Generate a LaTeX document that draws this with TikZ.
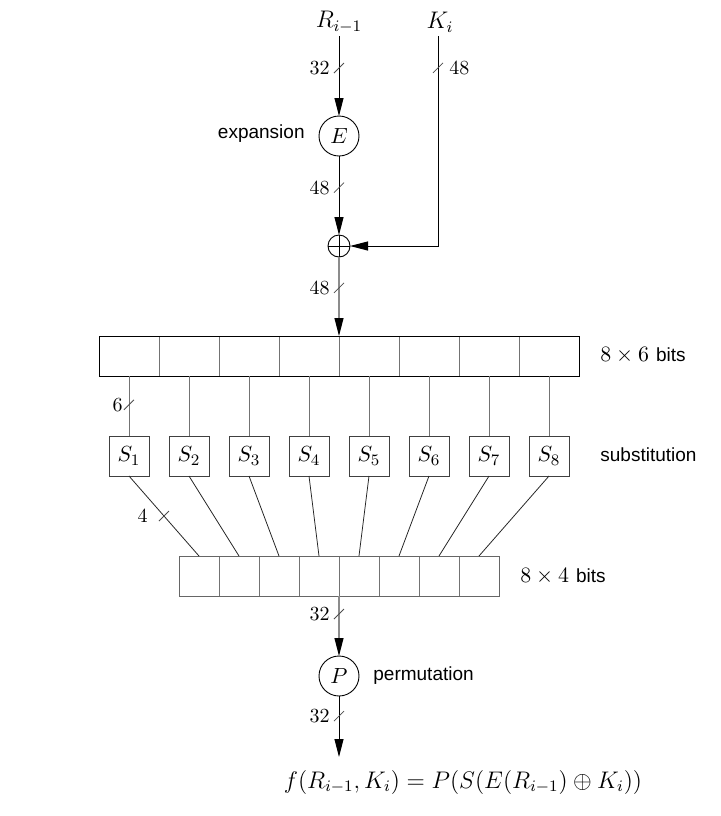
\documentclass[tikz,border=0pt]{standalone}
\usepackage{fontspec}
\newfontfamily\lblfont{Liberation Sans}
\usetikzlibrary{arrows.meta,calc}
\newcommand\myslash[1]{\draw[slashmark] ($(#1)+(-5,5)$) -- ($(#1)+(5,-5)$);}
\begin{document}
\begin{tikzpicture}[x=0.5pt,y=-0.5pt,
  tipk/.tip={Triangle[length=9pt,width=4.5pt,black]},
  flow/.style={draw=black, line width=0.5pt, -tipk},
  gflow/.style={draw=black!45, line width=0.55pt, -tipk},
  conn/.style={draw=black!55, line width=0.45pt},
  dconn/.style={draw=black!85, line width=0.4pt},
  cell/.style={draw=black!55, line width=0.5pt, minimum width=30pt, minimum height=20pt, inner sep=0pt, outer sep=0pt},
  bcell/.style={draw=black!55, line width=0.5pt, minimum size=20pt, inner sep=0pt, outer sep=0pt},
  sbox/.style={draw=black!75, line width=0.5pt, minimum size=20pt, inner sep=0pt, outer sep=0pt, font=\fontsize{11}{13}\selectfont},
  op/.style={circle, draw, line width=0.45pt, minimum size=20pt, inner sep=0pt, outer sep=0pt, font=\fontsize{11}{13}\selectfont},
  slashmark/.style={draw=black!70, line width=0.4pt},
  num/.style={font=\fontsize{10}{12}\selectfont, inner sep=0pt},
  lbl/.style={font=\lblfont\fontsize{9.5}{11}\selectfont, inner sep=0pt},
  inp/.style={font=\fontsize{12}{14}\selectfont, inner sep=0pt}
]
\useasboundingbox (0,0) rectangle (720,816);

% inputs
\node[inp] (R) at (339,22) {$R_{i-1}$};
\node[inp] (K) at (440,22) {$K_i$};
\coordinate (Rtop) at (339,36);
\coordinate (Ktop) at (438,36);
\coordinate (Kc) at (438,246);

% operators
\node[op] (E) at (339,136) {$E$};
\node[op, minimum size=11pt] (X) at (339,246) {};
\draw[line width=0.45pt] (X.north) -- (X.south) (X.west) -- (X.east);
\node[op] (P) at (339,676) {$P$};

% top box (8 x 6 bits)
\foreach \k in {1,...,8} {
  \node[cell] (t\k) at ({69+60*\k},356) {};
}
\draw[line width=0.5pt] (t1.north west) rectangle (t8.south east);

% S-boxes
\foreach \k in {1,...,8} {
  \node[sbox] (S\k) at ({69+60*\k},456) {$S_{\k}$};
}

% bottom box (8 x 4 bits)
\foreach \k in {1,...,8} {
  \node[bcell] (b\k) at ({159+40*\k},576) {};
}
\draw[draw=black!60, line width=0.5pt] (b1.north west) rectangle (b8.south east);

\coordinate (out) at (339,757);

% connectors
\draw[flow] (Rtop) -- coordinate[pos=0.4] (m1) (E.north);
\draw[flow] (E.south) -- coordinate[pos=0.4] (m2) (X.north);
\draw[flow] (Ktop) -- coordinate[pos=0.152] (m3) (Kc) -- (X.east);
\draw[gflow] (X.south) -- coordinate[pos=0.39] (m4) (t4.north east);
\foreach \k in {1,...,8} {
  \draw[conn] (t\k.south) -- (S\k.north);
  \draw[dconn] (S\k.south) -- (b\k.north);
}
\coordinate (m5) at ($(t1.south)!0.48!(S1.north)$);
\coordinate (m6) at ($(S1.south)!0.5!(b1.north)$);
\draw[gflow] (b4.south east) -- coordinate[pos=0.3] (m7) (P.north);
\draw[flow] (P.south) -- coordinate[pos=0.33] (m8) (out);

% bus width marks
\myslash{m1} \myslash{m2} \myslash{m3} \myslash{m4}
\myslash{m5} \myslash{m6} \myslash{m7} \myslash{m8}
\node[num, anchor=east] (n1) at ($(m1)+(-9,0)$) {32};
\node[num, anchor=east] (n2) at ($(m2)+(-9,0)$) {48};
\node[num, anchor=west] (n3) at ($(m3)+(11,0)$) {48};
\node[num, anchor=east] (n4) at ($(m4)+(-9,0)$) {48};
\node[num, anchor=east] (n5) at ($(m5)+(-6,0)$) {6};
\node[num, anchor=east] (n6) at ($(m6)+(-16,0)$) {4};
\node[num, anchor=east] (n7) at ($(m7)+(-9,0)$) {32};
\node[num, anchor=east] (n8) at ($(m8)+(-9,0)$) {32};

% labels
\node[lbl, anchor=east] (lexp) at (305,134) {expansion};
\node[lbl, anchor=west] (lsub) at (600,455) {substitution};
\node[lbl, anchor=west] (lper) at (373,676) {permutation};
\node[anchor=west, inner sep=0pt, font=\fontsize{10.5}{12}\selectfont] (l86) at (600,355) {$8\times6$ {\lblfont\fontsize{9.5}{11}\selectfont bits}};
\node[anchor=west, inner sep=0pt, font=\fontsize{10.5}{12}\selectfont] (l84) at (520,576) {$8\times4$ {\lblfont\fontsize{9.5}{11}\selectfont bits}};
\node[inner sep=0pt, font=\fontsize{12}{14}\selectfont] (fml) at (463,782) {$f(R_{i-1},K_i)=P(S(E(R_{i-1})\oplus K_i))$};
\end{tikzpicture}
\end{document}
